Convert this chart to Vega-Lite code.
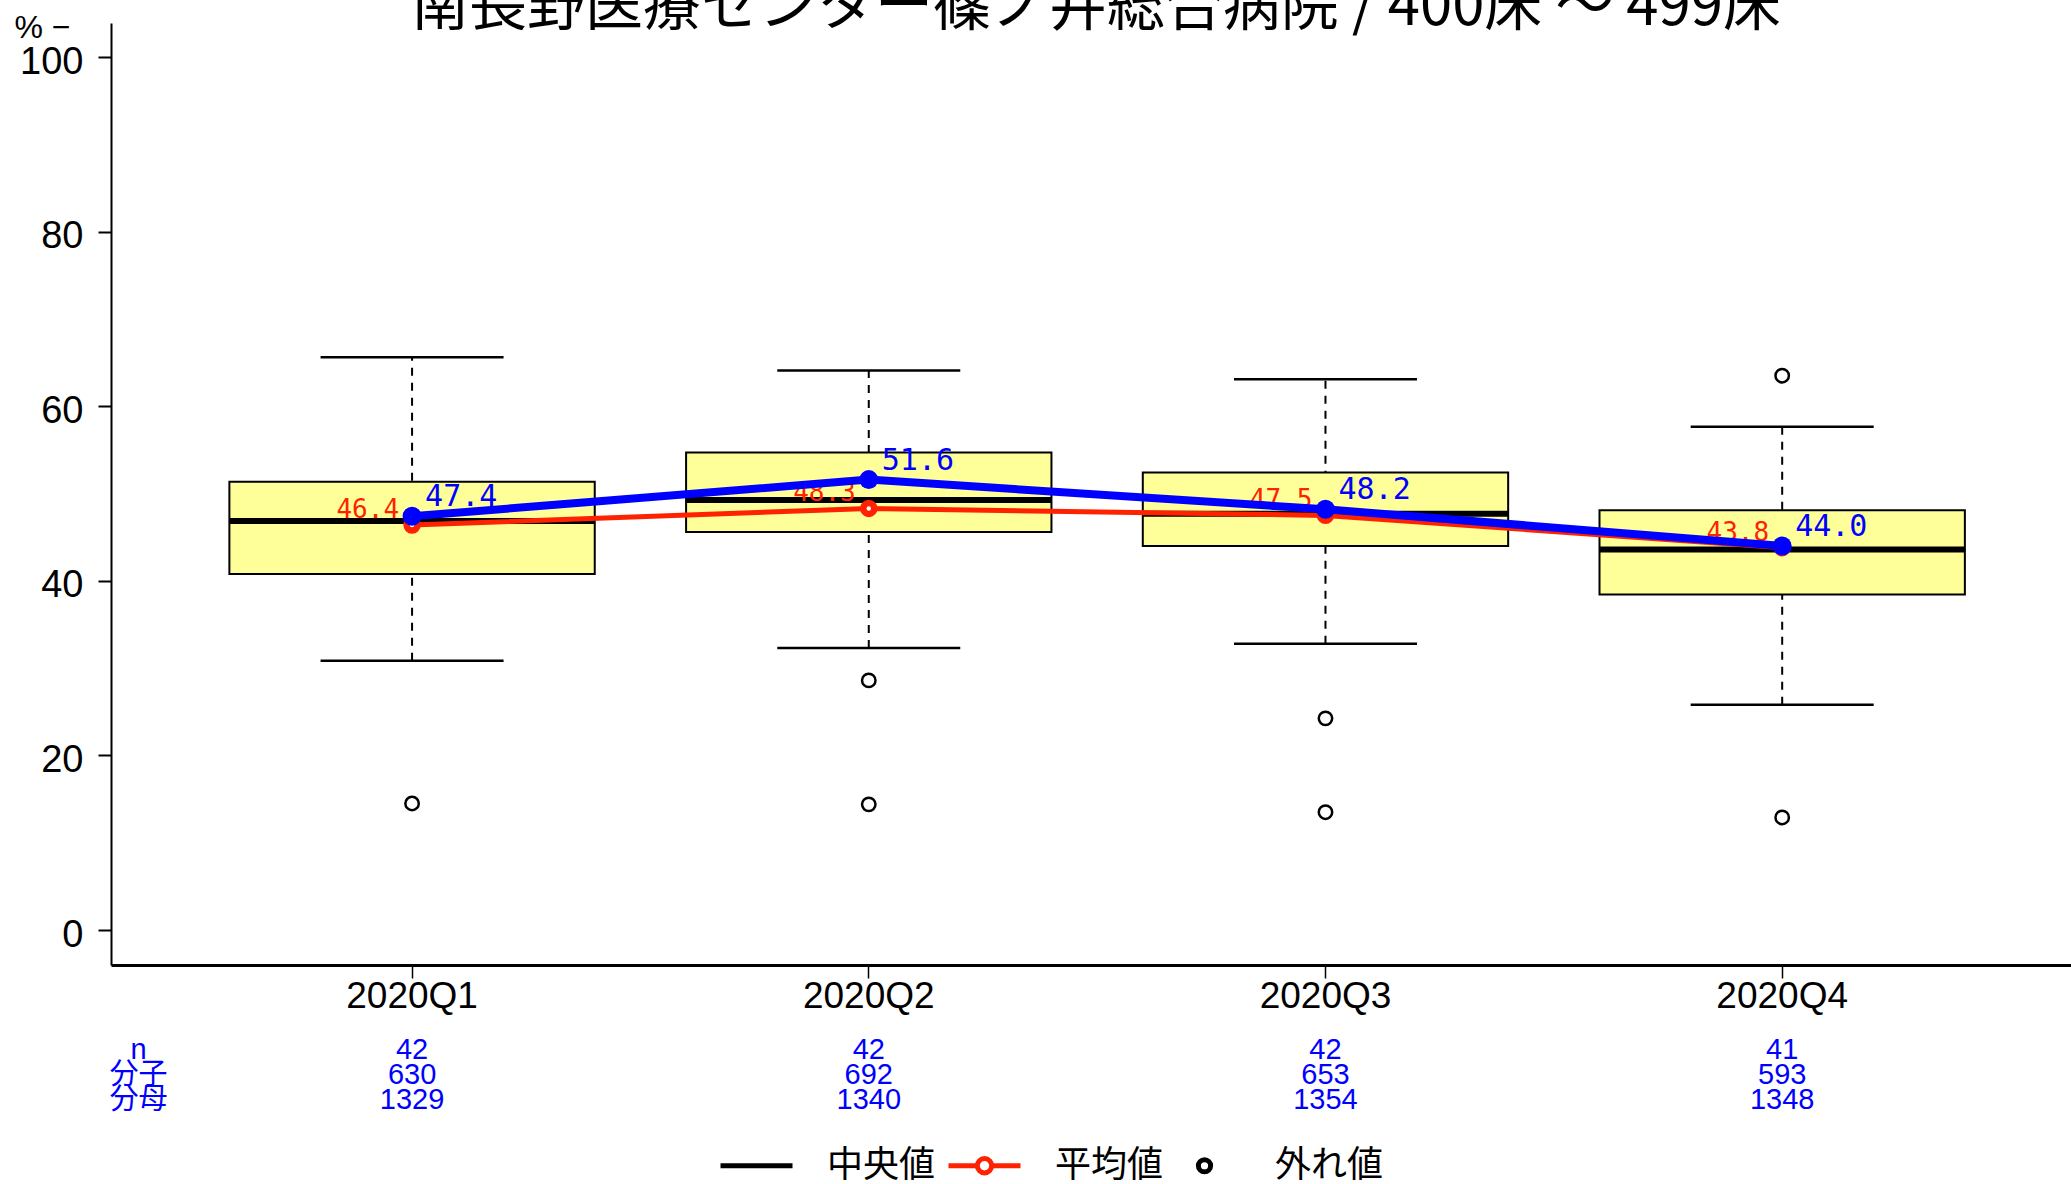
{
  "$schema": "https://vega.github.io/schema/vega-lite/v6.json",
  "autosize": {"type": "none"},
  "padding": {"left": 111, "top": 23, "right": 1960, "bottom": 1161},
  "background": "white",
  "title": {
    "text": "南長野医療センター篠ノ井総合病院 / 400床 ～ 499床",
    "anchor": "start", "align": "center", "dx": 985, "offset": -72,
    "frame": "group", "baseline": "alphabetic",
    "fontSize": 58, "font": "Noto Sans CJK JP", "fontWeight": "normal", "color": "black"
  },
  "datasets": {
    "stats": [
      {"quarter": "2020Q1", "lo": 30.85, "q1": 40.8, "median": 46.85, "q3": 51.35, "hi": 65.6, "mean": 46.4, "hospital": 47.4, "n": 42, "分子": 630, "分母": 1329},
      {"quarter": "2020Q2", "lo": 32.3, "q1": 45.6, "median": 49.25, "q3": 54.7, "hi": 64.1, "mean": 48.3, "hospital": 51.6, "n": 42, "分子": 692, "分母": 1340},
      {"quarter": "2020Q3", "lo": 32.8, "q1": 44.0, "median": 47.7, "q3": 52.4, "hi": 63.1, "mean": 47.5, "hospital": 48.2, "n": 42, "分子": 653, "分母": 1354},
      {"quarter": "2020Q4", "lo": 25.8, "q1": 38.45, "median": 43.6, "q3": 48.1, "hi": 57.65, "mean": 43.8, "hospital": 44.0, "n": 41, "分子": 593, "分母": 1348}
    ],
    "outliers": [
      {"quarter": "2020Q1", "value": 14.5},
      {"quarter": "2020Q2", "value": 28.6},
      {"quarter": "2020Q2", "value": 14.4},
      {"quarter": "2020Q3", "value": 24.25},
      {"quarter": "2020Q3", "value": 13.5},
      {"quarter": "2020Q4", "value": 63.5},
      {"quarter": "2020Q4", "value": 12.9}
    ],
    "legend": [
      {"item": "中央値"},
      {"item": "平均値"},
      {"item": "外れ値"}
    ]
  },
  "spacing": 21,
  "vconcat": [
    {
      "width": 1960,
      "height": 942,
      "data": {"name": "stats"},
      "encoding": {
        "x": {
          "field": "quarter", "type": "nominal", "title": null,
          "scale": {"type": "band", "domain": ["2020Q1", "2020Q2", "2020Q3", "2020Q4"], "paddingInner": 0, "paddingOuter": 0.1458, "align": 0.546},
          "axis": {"labelAngle": 0, "labelFont": "Liberation Sans", "labelFontSize": 37, "labelColor": "black", "labelPadding": 0, "tickSize": 13, "tickWidth": 1.5, "tickColor": "black", "domainWidth": 3, "domainColor": "black", "grid": false}
        }
      },
      "layer": [
        {
          "mark": {"type": "rule", "strokeDash": [8, 7], "strokeWidth": 2, "color": "black"},
          "encoding": {
            "y": {
              "field": "lo", "type": "quantitative", "title": "% −",
              "scale": {"domain": [-4, 103.9], "nice": false, "zero": false},
              "axis": {"values": [0, 20, 40, 60, 80, 100], "grid": false, "tickSize": 13, "tickWidth": 2, "tickColor": "black", "domainWidth": 2, "domainColor": "black", "labelFont": "Liberation Sans", "labelFontSize": 38, "labelColor": "black", "labelPadding": 15, "labelOffset": 5, "titleAngle": 0, "titleAlign": "left", "titleBaseline": "middle", "titleX": -97, "titleY": 4, "titleFont": "Liberation Sans", "titleFontSize": 32, "titleFontWeight": "normal", "titleColor": "black"}
            },
            "y2": {"field": "hi"}
          }
        },
        {
          "mark": {"type": "tick", "size": 183, "thickness": 2.5, "color": "black", "opacity": 1},
          "encoding": {"y": {"field": "lo", "type": "quantitative"}}
        },
        {
          "mark": {"type": "tick", "size": 183, "thickness": 2.5, "color": "black", "opacity": 1},
          "encoding": {"y": {"field": "hi", "type": "quantitative"}}
        },
        {
          "mark": {"type": "bar", "width": {"band": 0.8}, "fill": "#ffff99", "stroke": "black", "strokeWidth": 2},
          "encoding": {"y": {"field": "q1", "type": "quantitative"}, "y2": {"field": "q3"}}
        },
        {
          "mark": {"type": "tick", "size": 366, "thickness": 6, "color": "black", "opacity": 1},
          "encoding": {"y": {"field": "median", "type": "quantitative"}}
        },
        {
          "data": {"name": "outliers"},
          "mark": {"type": "point", "shape": "circle", "filled": false, "size": 180, "strokeWidth": 2.5, "color": "black", "opacity": 1},
          "encoding": {"y": {"field": "value", "type": "quantitative"}}
        },
        {
          "mark": {"type": "line", "color": "#ff2200", "strokeWidth": 5},
          "encoding": {"y": {"field": "mean", "type": "quantitative"}}
        },
        {
          "mark": {"type": "point", "shape": "circle", "fill": "white", "stroke": "#ff2200", "strokeWidth": 6.5, "size": 120, "opacity": 1, "fillOpacity": 1},
          "encoding": {"y": {"field": "mean", "type": "quantitative"}}
        },
        {
          "mark": {"type": "text", "align": "right", "baseline": "alphabetic", "dx": -13, "dy": -7, "font": "DejaVu Sans Mono", "fontSize": 26, "color": "#ff2200"},
          "encoding": {"y": {"field": "mean", "type": "quantitative"}, "text": {"field": "mean", "type": "quantitative", "format": ".1f"}}
        },
        {
          "mark": {"type": "line", "color": "#0000ff", "strokeWidth": 8},
          "encoding": {"y": {"field": "hospital", "type": "quantitative"}}
        },
        {
          "mark": {"type": "point", "shape": "circle", "filled": true, "size": 360, "color": "#0000ff", "opacity": 1},
          "encoding": {"y": {"field": "hospital", "type": "quantitative"}}
        },
        {
          "mark": {"type": "text", "align": "left", "baseline": "alphabetic", "dx": 13, "dy": -10, "font": "DejaVu Sans Mono", "fontSize": 30, "color": "#0000ff"},
          "encoding": {"y": {"field": "hospital", "type": "quantitative"}, "text": {"field": "hospital", "type": "quantitative", "format": ".1f"}}
        },
        {
          "data": {"name": "legend"},
          "mark": {"type": "point", "filled": false, "opacity": 0},
          "encoding": {
            "shape": {
              "field": "item", "type": "nominal",
              "scale": {"domain": ["中央値", "平均値", "外れ値"], "range": ["M-1,0L1,0", "M-1,0L-0.2,0M0.2,0L1,0M-0.2,0A0.2,0.2 0 1,0 0.2,0A0.2,0.2 0 1,0 -0.2,0", "M-0.17,0A0.17,0.17 0 1,0 0.17,0A0.17,0.17 0 1,0 -0.17,0"]},
              "legend": {"title": null, "orient": "none", "legendX": 607, "legendY": 1104, "direction": "horizontal", "symbolSize": 5184, "symbolStrokeWidth": 5, "symbolOpacity": 1, "symbolFillColor": "transparent", "labelFont": "Noto Sans CJK JP", "labelFontSize": 36, "labelOffset": 32, "columnPadding": 2, "labelLimit": 300,
                "encode": {
                  "labels": {"update": {"fill": {"signal": "datum.label === '平均値' ? '#ff2200' : '#000000'"}}},
                  "symbols": {"update": {"strokeWidth": {"signal": "datum.label === '外れ値' ? 4 : 5"}}}
                }}
            },
            "color": {
              "field": "item", "type": "nominal",
              "scale": {"domain": ["中央値", "平均値", "外れ値"], "range": ["#000000", "#ff2200", "#000000"]},
              "legend": {"title": null, "orient": "none", "legendX": 607, "legendY": 1104, "direction": "horizontal", "symbolSize": 5184, "symbolStrokeWidth": 5, "symbolOpacity": 1, "labelFont": "Noto Sans CJK JP", "labelFontSize": 36, "labelOffset": 32, "columnPadding": 2, "labelLimit": 300}
            }
          }
        }
      ]
    },
    {
      "width": 1960,
      "height": 75,
      "data": {"name": "stats"},
      "transform": [{"fold": ["n", "分子", "分母"], "as": ["row", "val"]}],
      "mark": {"type": "text", "font": "Liberation Sans", "fontSize": 29, "color": "#0000ff", "baseline": "middle"},
      "encoding": {
        "x": {
          "field": "quarter", "type": "nominal",
          "scale": {"type": "band", "domain": ["2020Q1", "2020Q2", "2020Q3", "2020Q4"], "paddingInner": 0, "paddingOuter": 0.1458, "align": 0.546},
          "axis": null
        },
        "y": {
          "field": "row", "type": "nominal",
          "scale": {"type": "point", "domain": ["n", "分子", "分母"], "padding": 0.5},
          "axis": {"title": null, "ticks": false, "domain": false, "grid": false, "labelAlign": "center", "labelBaseline": "middle", "labelPadding": -27, "labelColor": "#0000ff", "labelFont": "Liberation Sans, Noto Sans CJK JP", "labelFontSize": 29}
        },
        "text": {"field": "val", "type": "quantitative", "format": "d"}
      }
    }
  ],
  "config": {
    "view": {"stroke": null},
    "axis": {"grid": false}
  }
}
